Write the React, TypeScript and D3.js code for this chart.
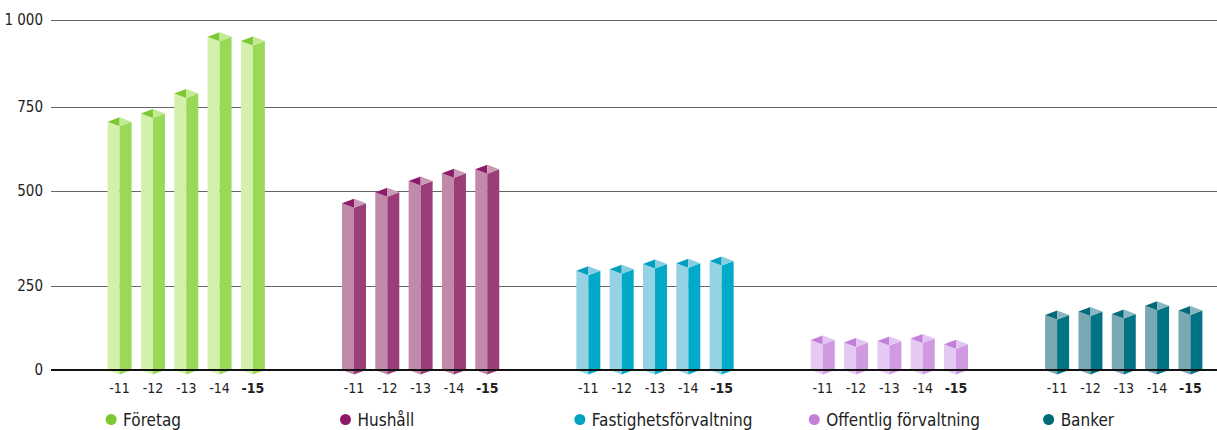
import React from "react";
import * as d3 from "d3";

const groups = ["Företag", "Hushåll", "Fastighetsförvaltning", "Offentlig förvaltning", "Banker"];
const years = ["-11", "-12", "-13", "-14", "-15"];
const foretag = [706, 731, 789, 952, 940];
const hushall = [468, 497, 530, 553, 565];
const fastighet = [290, 294, 308, 310, 316];
const offentlig = [89, 82, 86, 94, 77];
const banker = [164, 174, 167, 191, 177];
const yTicks = [0, 250, 500, 750, 1000];
const yTickLabels = ["0", "250", "500", "750", "1 000"];

const seriesValues = [foretag, hushall, fastighet, offentlig, banker];

const palettes = [
  { light: "#d3f1aa", dark: "#9ad957", capL: "#7cc832", capR: "#c2ea92", dot: "#7cc832" },
  { light: "#c18aab", dark: "#9b3d78", capL: "#8e1b6a", capR: "#c99ab6", dot: "#8e1b6a" },
  { light: "#94d2e4", dark: "#00aac8", capL: "#009fbe", capR: "#86cde1", dot: "#00a3c2" },
  { light: "#e4c9f3", dark: "#d099e2", capL: "#c27fd9", capR: "#e2c6f1", dot: "#c480da" },
  { light: "#79a8b4", dark: "#007484", capL: "#006a78", capR: "#8bb5c0", dot: "#006a78" },
];

const W = 1217;
const H = 430;
const FONT = "'Liberation Sans Narrow', 'DejaVu Sans Condensed', Arial, sans-serif";

export default function App() {
  const y = d3.scaleLinear().domain(yTicks).range([370, 286, 191, 107, 20]);
  const outer = d3
    .scaleBand<string>()
    .domain(groups)
    .range([51, 1259])
    .paddingInner(0.329)
    .paddingOuter(0.2415);
  const inner = d3
    .scaleBand<string>()
    .domain(years)
    .range([0, outer.bandwidth()])
    .paddingInner(0.28)
    .paddingOuter(0);

  const base = y(0);
  const dy = 4.5;
  const bw = inner.bandwidth();
  const line = d3.line();

  return (
    <svg
      width={W}
      height={H}
      style={{ position: "absolute", left: 0, top: 0, background: "#fff" }}
      fontFamily={FONT}
    >
      {yTicks.map((t) =>
        t === 0 ? null : (
          <line
            key={t}
            x1={51}
            x2={W}
            y1={Math.round(y(t)) + 0.5}
            y2={Math.round(y(t)) + 0.5}
            stroke="#666"
            strokeWidth={1}
            shapeRendering="crispEdges"
          />
        )
      )}
      {groups.map((g, gi) =>
        seriesValues[gi].map((v, yi) => {
          const L = (outer(g) as number) + (inner(years[yi]) as number);
          const C = L + bw / 2;
          const R = L + bw;
          const t = y(v);
          const p = palettes[gi];
          const poly = (pts: [number, number][]) => (line(pts) as string) + "Z";
          return (
            <g key={g + yi}>
              <path d={poly([[L, t], [C, t + dy], [C, base + dy], [L, base]])} fill={p.light} />
              <path d={poly([[C, t + dy], [R, t], [R, base], [C, base + dy]])} fill={p.dark} />
              <path d={poly([[L, t], [C, t - dy], [C, t + dy]])} fill={p.capL} />
              <path d={poly([[C, t - dy], [R, t], [C, t + dy]])} fill={p.capR} />
            </g>
          );
        })
      )}
      <line x1={51} x2={W} y1={base} y2={base} stroke="#111" strokeWidth={2} />
      {yTicks.map((t, i) => (
        <text
          key={"yl" + t}
          x={43}
          y={y(t)}
          dy="0.35em"
          textAnchor="end"
          fontSize={15}
          fill="#222"
        >
          {yTickLabels[i]}
        </text>
      ))}
      {groups.map((g) =>
        years.map((yr, yi) => (
          <text
            key={g + yr}
            x={(outer(g) as number) + (inner(yr) as number) + bw / 2}
            y={393}
            textAnchor="middle"
            fontSize={14}
            fontWeight={yi === years.length - 1 ? "bold" : "normal"}
            fill="#222"
          >
            {yr}
          </text>
        ))
      )}
      {groups.map((g, gi) => (
        <g key={"lg" + g}>
          <circle cx={(outer(g) as number) + 3.5} cy={419.5} r={5.5} fill={palettes[gi].dot} />
          <text x={(outer(g) as number) + 15.5} y={425.5} fontSize={17} fill="#222">
            {g}
          </text>
        </g>
      ))}
    </svg>
  );
}
